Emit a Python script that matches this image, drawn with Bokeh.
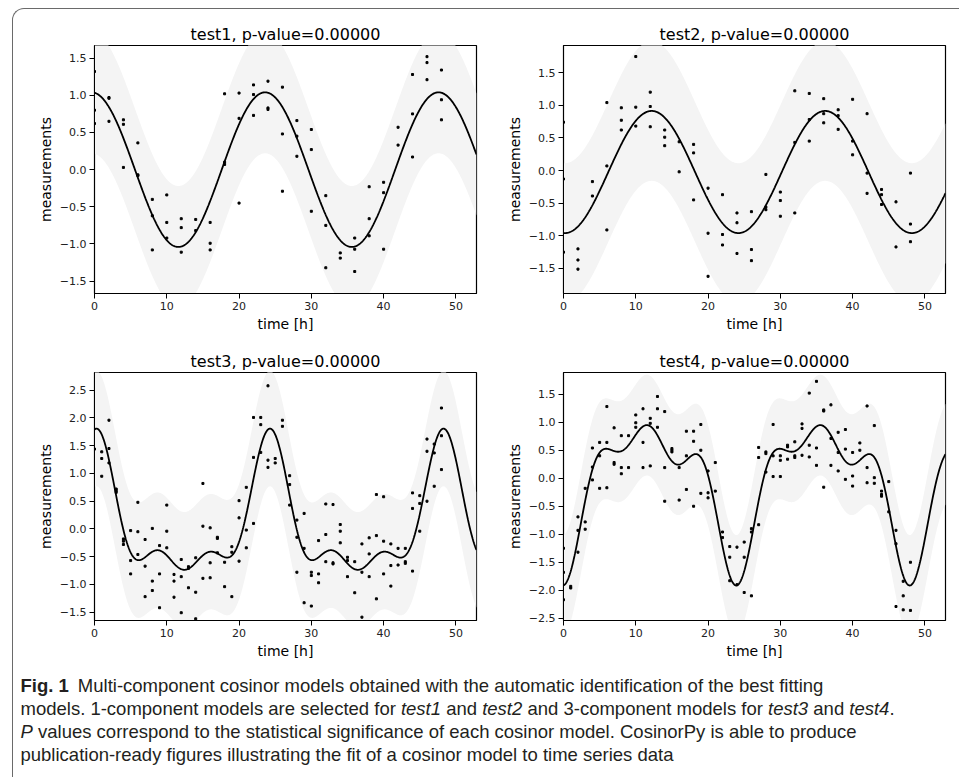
import numpy as np
from bokeh.plotting import figure
from bokeh.layouts import column, row
from bokeh.models import Range1d, FixedTicker, CustomJSTickFormatter
from bokeh.core.properties import value
from bokeh.embed import file_html
from bokeh.resources import INLINE

# ---------------- data ----------------
PERIOD = 24.0
time_ticks = [0, 10, 20, 30, 40, 50]
titles = ["test1, p-value=0.00000", "test2, p-value=0.00000",
          "test3, p-value=0.00000", "test4, p-value=0.00000"]
x_label = "time [h]"
y_label = "measurements"

# test1: measurements every 2 h
t1_times = list(range(0, 49, 2))
t1_meas = [[1.32, 0.80, 0.62], [0.97, 0.96, 0.65], [0.67, 0.61, 0.03], [0.36, -0.07, -0.08],
           [-0.40, -0.62, -1.08], [-0.34, -0.71, -0.92], [-0.66, -0.78, -1.11], [-0.67, -0.82],
           [-0.71, -0.99, -1.08], [1.02, 0.10, 0.07], [1.03, 0.69, -0.45], [1.14, 1.01, 0.73],
           [1.19, 0.83, 0.81], [1.11, 0.48, -0.29], [0.66, 0.45, 0.18], [0.54, 0.27, -0.56],
           [-0.35, -0.75, -1.32], [-1.12, -1.19], [-0.92, -1.07, -1.37], [-0.23, -0.66, -0.89],
           [-0.17, -0.31, -1.07], [0.57, 0.33], [1.28, 0.75, 0.17], [1.52, 1.44, 1.21],
           [1.34, 0.94, 0.67]]

# test2: measurements every 2 h
t2_times = list(range(0, 49, 2))
t2_meas = [[0.74, -0.13, -1.25], [-1.20, -1.37, -1.51], [-0.17, -0.39], [1.04, 0.07, -0.91],
           [0.96, 0.77, 0.62], [1.745, 0.97, 0.68], [1.20, 0.98, 0.67], [0.62, 0.51, 0.38],
           [0.44, -0.02], [0.40, 0.27, -0.45], [-0.27, -0.96, -1.62], [-0.37, -0.98, -1.14],
           [-0.65, -0.80, -1.27], [-0.63, -1.21, -1.38], [-0.06, -0.56, -0.60], [-0.33, -0.46, -0.70],
           [1.22, 0.43, -0.65], [1.18, 0.78, 0.45], [1.10, 0.87, 0.73], [0.93, 0.84, 0.63],
           [1.09, 0.45, 0.24], [0.87, -0.04, -0.35], [-0.29, -0.37, -0.52], [-0.48, -1.17],
           [-0.04, -0.82, -1.09]]

# test3: measurements every hour
t3_times = list(range(0, 49))
t3_meas = [[1.44], [1.39, 1.27, 0.95], [1.96, 1.45, 1.19], [0.72, 0.69, 0.66], [-0.18, -0.22, -0.28],
           [-0.03, -0.57, -0.81], [0.48, -0.05, -0.46], [-0.19, -0.67, -1.22], [0.01, -0.94, -1.11],
           [-0.30, -0.81, -1.42], [0.43, -0.04, -0.34], [-0.82, -0.94, -1.23], [-0.55, -0.86, -1.51],
           [-0.68, -0.71, -1.06], [-0.52, -1.14, -1.62], [0.82, 0.05, -0.89], [0.02, -0.61, -0.88],
           [-0.15, -0.17, -0.43], [-0.60, -1.04], [-0.32, -0.42, -1.22], [0.51, 0.20, -0.58],
           [0.75, -0.02, -0.34], [2.01, 1.29, 0.10], [2.01, 1.88, 1.38], [2.58, 1.24, 1.11],
           [1.27, 1.19], [1.96, 1.85], [0.96, 0.80, 0.43], [0.16, -0.15, -0.78], [0.28, -0.35, -1.33],
           [-0.78, -0.84, -1.39], [-0.21, -0.81, -0.97], [0.45, -0.10, -0.59], [0.44, -0.61, -0.63],
           [0.08, -0.04, -0.25], [-0.51, -0.57, -0.86], [-0.59, -1.15], [-0.27, -0.78, -1.59],
           [-0.16, -0.45, -0.86], [0.62, -0.12, -1.26], [0.58, -0.22, -0.81], [-0.27, -0.66, -1.03],
           [-0.35, -0.65], [-0.35, -0.59, -0.62], [0.65, 0.37, -0.76], [0.60, 0.46, -0.04],
           [1.62, 1.40, 0.50], [1.53, 1.37, 0.77], [2.18, 1.68, 1.07]]

# test4: measurements every hour
t4_times = list(range(0, 49))
t4_meas = [[-1.25, -1.68, -2.17], [-1.93, -1.96], [-0.69, -0.93, -1.32], [-0.18, -0.78, -0.91],
           [0.54, 0.20, -0.03], [0.64, 0.40, -0.18], [1.28, 0.64, -0.17], [0.90, 0.28, 0.25],
           [0.76, 0.19, 0.08], [0.76, 0.19], [1.13, 0.99, 0.91], [1.24, 0.64, 0.19],
           [1.07, 0.98, 0.22], [1.46, 1.24, 0.91], [1.19, 0.19, -0.41], [0.53, 0.50, 0.47],
           [0.19, -0.39], [0.84, 0.40, -0.20], [0.84, 0.66, -0.50], [0.96, 0.50, -0.27],
           [0.13, -0.26, -0.35], [0.28, -0.23], [-0.96, -1.06], [-1.22, -1.41, -1.83],
           [-1.23, -1.90], [-1.14, -1.41, -2.04], [-0.90, -0.96, -2.10], [0.55, 0.37, -0.83],
           [0.47, 0.44, 0.11], [0.96, 0.40, 0.03], [0.40, 0.32, 0.03], [0.59, 0.56, 0.34],
           [0.65, 0.40, 0.37], [0.97, 0.89, 0.41], [1.52, 0.59, 0.38], [1.73, 0.54, 0.23],
           [1.22, 1.20, -0.16], [1.31, 0.71, 0.23], [0.82, 0.46, 0.13], [0.87, 0.52, -0.02],
           [0.46, 0.04, -0.14], [0.63, 0.50], [1.29, 0.19, -0.08], [0.94, 0.01, -0.09],
           [-0.23, -0.29, -0.32], [-0.06, -0.60], [-0.93, -1.17, -2.29], [-1.84, -2.10, -2.35],
           [-1.50, -2.36]]

# fitted cosinor models
t1_peak, t1_trough, t1_peak_time = 1.04, -1.04, 23.6      # 1-component
t2_peak, t2_trough, t2_peak_time = 0.912, -0.958, 12.2    # 1-component
curve_t = list(range(24))                                   # 3-component curves, one period
t3_curve = [1.78, 1.68, 1.22, 0.62, 0.02, -0.45, -0.57, -0.50, -0.42, -0.40, -0.46, -0.60,
            -0.74, -0.74, -0.60, -0.46, -0.42, -0.44, -0.50, -0.47, -0.26, 0.25, 0.92, 1.52]
t4_curve = [-1.91, -1.67, -1.18, -0.33, 0.20, 0.44, 0.51, 0.46, 0.48, 0.63, 0.78, 0.91,
            0.93, 0.76, 0.52, 0.29, 0.24, 0.36, 0.42, 0.35, 0.05, -0.55, -1.20, -1.70]
band_half = [0.82, 1.07, 1.04, 0.90]                       # half width of the grey band

x_limits = (0, 52.85)
y_limits = [(-1.666, 1.67), (-1.883, 1.914), (-1.65, 2.82), (-2.54, 1.888)]
y_ticks = [[-1.5, -1.0, -0.5, 0.0, 0.5, 1.0, 1.5],
           [-1.5, -1.0, -0.5, 0.0, 0.5, 1.0, 1.5],
           [-1.5, -1.0, -0.5, 0.0, 0.5, 1.0, 1.5, 2.0, 2.5],
           [-2.5, -2.0, -1.5, -1.0, -0.5, 0.0, 0.5, 1.0, 1.5]]

caption_lines = [
    [("Fig. 1", "bold"), ("Multi-component cosinor models obtained with the automatic identification of the best fitting", "normal")],
    [("models. 1-component models are selected for", "normal"), ("test1", "italic"), ("and", "normal"),
     ("test2", "italic"), ("and 3-component models for", "normal"), ("test3", "italic"), ("and", "normal"),
     ("test4", "italic"), (".", "normal")],
    [("P", "italic"), ("values correspond to the statistical significance of each cosinor model. CosinorPy is able to produce", "normal")],
    [("publication-ready figures illustrating the fit of a cosinor model to time series data", "normal")],
]

# ---------------- model helpers ----------------
def harmonic_fit(tr, vr, n_comp):
    tr = np.asarray(tr, float)
    cols = [np.ones_like(tr)]
    for k in range(1, n_comp + 1):
        w = 2 * np.pi * k / PERIOD
        cols += [np.cos(w * tr), np.sin(w * tr)]
    coef, *_ = np.linalg.lstsq(np.column_stack(cols), np.asarray(vr, float), rcond=None)
    return coef


def harmonic_eval(coef, t):
    y = np.full_like(t, coef[0])
    for k in range(1, (len(coef) - 1) // 2 + 1):
        w = 2 * np.pi * k / PERIOD
        y = y + coef[2 * k - 1] * np.cos(w * t) + coef[2 * k] * np.sin(w * t)
    return y


def one_comp(peak, trough, peak_time, t):
    mesor = (peak + trough) / 2
    amp = (peak - trough) / 2
    return mesor + amp * np.cos(2 * np.pi * (t - peak_time) / PERIOD)


tt = np.linspace(x_limits[0], x_limits[1], 800)
fits = [one_comp(t1_peak, t1_trough, t1_peak_time, tt),
        one_comp(t2_peak, t2_trough, t2_peak_time, tt),
        harmonic_eval(harmonic_fit(curve_t, t3_curve, 3), tt),
        harmonic_eval(harmonic_fit(curve_t, t4_curve, 3), tt)]
all_times = [t1_times, t2_times, t3_times, t4_times]
all_meas = [t1_meas, t2_meas, t3_meas, t4_meas]

FONT = "DejaVu Sans"
yfmt = "return tick.toFixed(1).replace('-', '\\u2212');"


def panel(i, left, right, top, bottom):
    p = figure(title=titles[i], frame_width=382, frame_height=248,
               x_range=Range1d(*x_limits), y_range=Range1d(*y_limits[i]),
               output_backend="svg", toolbar_location=None,
               min_border_left=left, min_border_right=right,
               min_border_top=top, min_border_bottom=bottom)
    xs = [t for t, vals in zip(all_times[i], all_meas[i]) for _ in vals]
    ys = [v for vals in all_meas[i] for v in vals]
    p.varea(x=tt, y1=fits[i] - band_half[i], y2=fits[i] + band_half[i], fill_color="#f4f4f4")
    p.line(tt, fits[i], line_color="black", line_width=1.8)
    p.scatter(xs, ys, size=2.0, color="black", marker="square")
    p.grid.visible = False
    p.outline_line_color = "black"
    p.outline_line_alpha = 1
    p.outline_line_width = 1.2
    p.background_fill_color = "white"
    p.border_fill_color = None
    p.title.align = "center"
    p.title.text_font = FONT
    p.title.text_font_size = "16px"
    p.title.text_font_style = "normal"
    p.title.text_color = "black"
    p.title.standoff = 4
    p.xaxis.ticker = FixedTicker(ticks=time_ticks)
    p.yaxis.ticker = FixedTicker(ticks=y_ticks[i])
    p.yaxis.formatter = CustomJSTickFormatter(code=yfmt)
    p.xaxis.axis_label = x_label
    p.yaxis.axis_label = y_label
    for ax in (p.xaxis, p.yaxis):
        ax.axis_label_text_font = FONT
        ax.axis_label_text_font_size = "14px"
        ax.axis_label_text_font_style = "normal"
        ax.axis_label_text_color = "black"
        ax.major_label_text_font = FONT
        ax.major_label_text_font_size = "11px"
        ax.major_label_text_color = "#222222"
        ax.major_tick_out = 5
        ax.major_tick_in = 0
        ax.minor_tick_line_color = None
        ax.axis_line_color = "black"
        ax.major_tick_line_color = "black"
        ax.major_label_standoff = 3
        ax.axis_label_standoff = 3
    return p


p1 = panel(0, 81, 14, 36, 42)
p2 = panel(1, 73, 14, 36, 42)
p3 = panel(2, 81, 14, 37, 40)
p4 = panel(3, 73, 14, 37, 40)

# ---------------- caption ----------------
# Arial / Liberation Sans advance widths (1/1000 em) used to flow the mixed-style segments
_W = {' ': 278, '.': 278, ',': 278, '-': 333, '1': 556, '2': 556, '3': 556, '4': 556,
      'C': 722, 'F': 611, 'M': 833, 'P': 667,
      'a': 556, 'b': 556, 'c': 500, 'd': 556, 'e': 556, 'f': 278, 'g': 556, 'h': 556, 'i': 222,
      'j': 222, 'k': 500, 'l': 222, 'm': 833, 'n': 556, 'o': 556, 'p': 556, 'q': 556, 'r': 333,
      's': 500, 't': 278, 'u': 556, 'v': 500, 'w': 722, 'x': 500, 'y': 500, 'z': 500}
_WB = {'F': 611, 'i': 278, 'g': 611, '.': 278, ' ': 278, '1': 556}


def text_width(s, size, bold=False):
    tab = _WB if bold else _W
    return sum(tab.get(c, 556) for c in s) * size / 1000.0


CAP_W, CAP_H = 946, 117
CAP_SIZE = 18.5
CAP_FONT = "Liberation Sans"
cap = figure(frame_width=CAP_W, frame_height=CAP_H, x_range=Range1d(0, CAP_W), y_range=Range1d(CAP_H, 0),
             output_backend="svg", toolbar_location=None, min_border=0,
             x_axis_location=None, y_axis_location=None)
cap.grid.visible = False
cap.outline_line_color = None
cap.border_fill_color = None
cap.background_fill_color = None

cap_x0 = 7          # left edge of caption text inside the caption canvas
cap_y = [24, 47, 70, 93]
for li, segs in enumerate(caption_lines):
    x = cap_x0
    for si, (txt, style) in enumerate(segs):
        if si > 0 and txt != ".":
            gap = text_width(" ", CAP_SIZE)
            if li == 0:
                gap = 9
            x += gap
        cap.text(x=[x], y=[cap_y[li]], text=[txt], text_font=value(CAP_FONT),
                 text_font_size=value(f"{CAP_SIZE}px"), text_font_style=style,
                 text_baseline="middle", text_align="left", text_color="#231f20")
        x += text_width(txt, CAP_SIZE, bold=(style == "bold"))

layout = column(row(p1, p2, spacing=0), row(p3, p4, spacing=0), cap, spacing=0,
                margin=(8, 0, 0, 12),
                styles={"border-top": "1.4px solid #6a6a6a", "border-left": "1.4px solid #6a6a6a",
                        "border-top-left-radius": "12px"})

open("out.html", "w").write(file_html(layout, INLINE))
